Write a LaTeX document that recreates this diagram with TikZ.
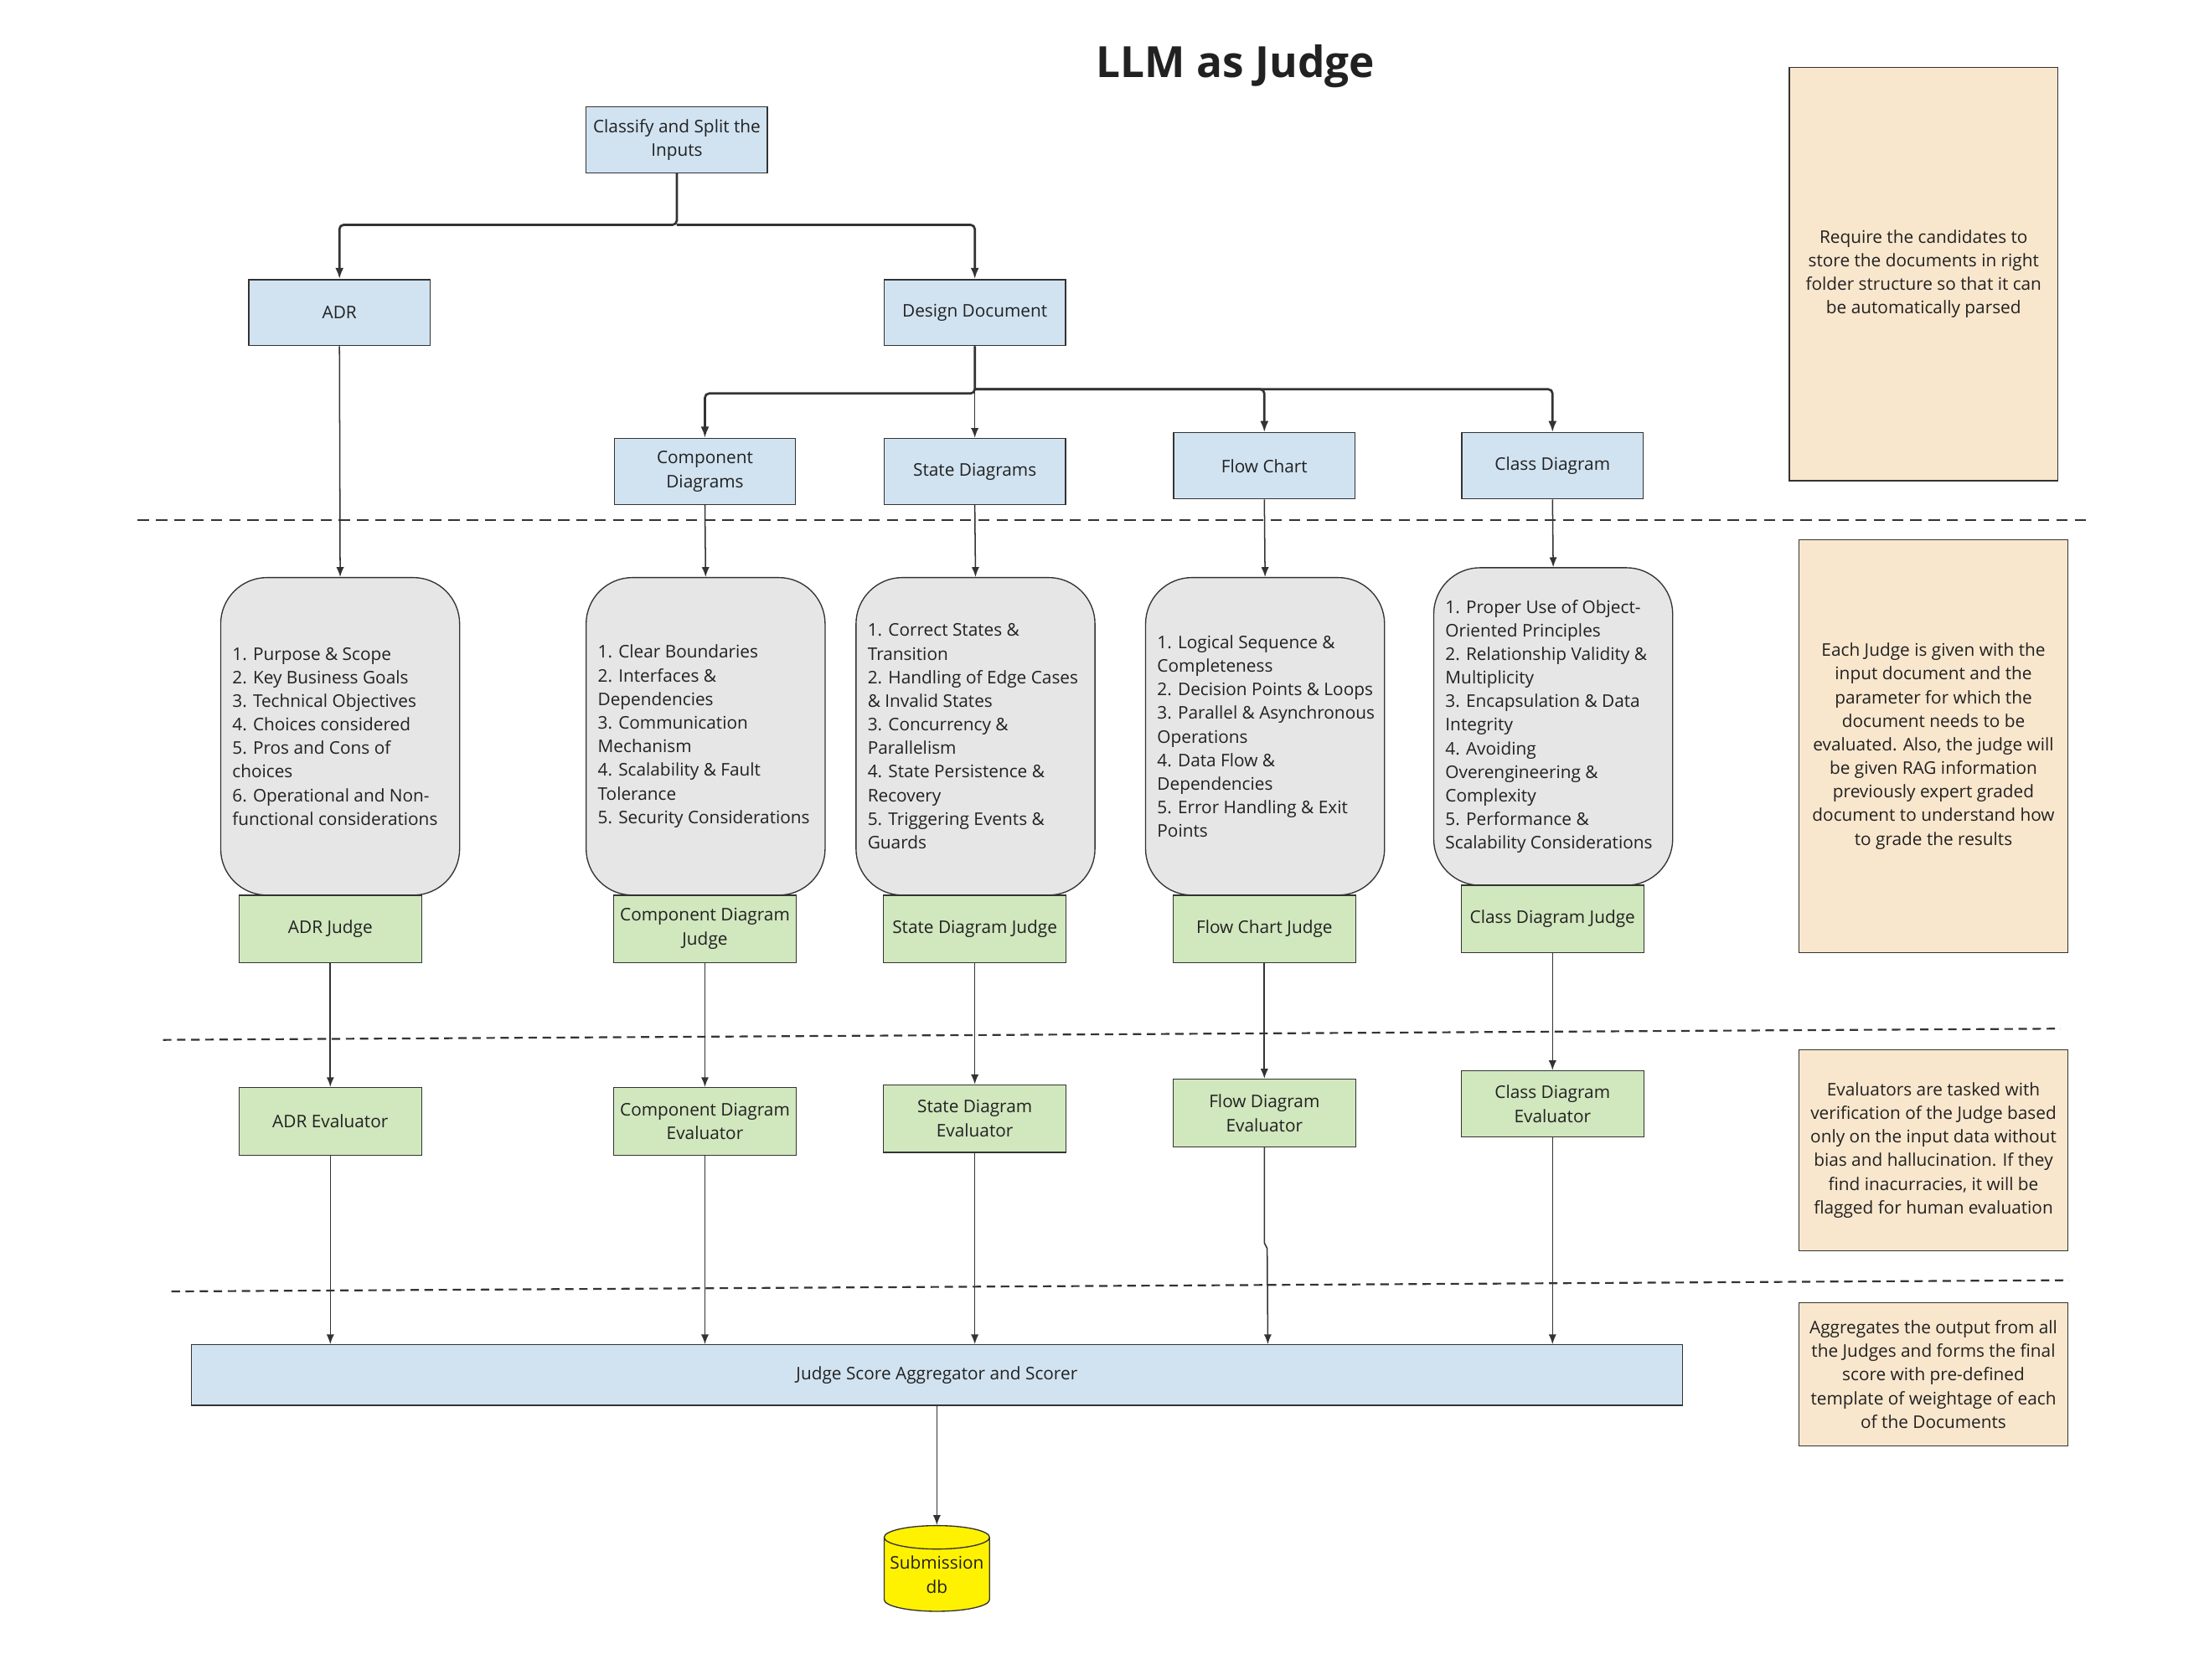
\documentclass[tikz,border=0pt]{standalone}
\usepackage{fontspec}
\setmainfont{Open Sans}
\usetikzlibrary{arrows.meta,shapes.geometric,calc}
\definecolor{bluef}{HTML}{D1E3F1}
\definecolor{greenf}{HTML}{D1E7BE}
\definecolor{peachf}{HTML}{F9E7CD}
\definecolor{grayf}{HTML}{E6E6E6}
\definecolor{linec}{HTML}{333333}
\definecolor{txtc}{HTML}{212121}
\tikzset{
  base/.style={draw=linec, line width=0.8pt, text=txtc, font=\fontsize{12.4}{17}\selectfont, align=center, inner sep=0pt},
  bluebox/.style={base, fill=bluef, minimum width=129, minimum height=47},
  greenbox/.style={base, fill=greenf, minimum width=130, minimum height=48},
  graybox/.style={base, fill=grayf, minimum width=170, minimum height=226, rounded corners=33pt},
  listtxt/.style={text=txtc, font=\fontsize{12.4}{16.8}\selectfont, align=left, inner sep=0pt, anchor=west},
  notebox/.style={base, fill=peachf, minimum width=191, font=\fontsize{12.4}{16.8}\selectfont},
  conn/.style={draw=linec, line width=0.9pt, -{Latex[length=7pt,width=5.5pt]}},
  connb/.style={draw=linec, line width=1.6pt, rounded corners=3pt, -{Latex[length=8pt,width=6pt]}},
  sep/.style={draw=linec, line width=1.3pt},
}
\begin{document}
\begin{tikzpicture}[x=1pt,y=-1pt]
\useasboundingbox (0,0) rectangle (1568,1195.5);

\node[text=txtc, font=\fontsize{30.6}{36}\selectfont\bfseries] (title) at (879,47) {LLM as Judge};

% top level
\node[bluebox] (cls) at (481.5,99.5) {Classify and Split the\\Inputs};
\node[bluebox] (adr) at (241.5,222.5) {ADR};
\node[bluebox] (dd) at (693.5,222.5) {Design Document};
\node[bluebox] (comp) at (501.5,335.5) {Component\\Diagrams};
\node[bluebox] (st) at (693.5,335.5) {State Diagrams};
\node[bluebox] (fc) at (899.5,331.5) {Flow Chart};
\node[bluebox] (cd) at (1104.5,331.5) {Class Diagram};

\coordinate (b1) at (481.5,160);
\draw[connb] (cls.south) -- (b1) -| (adr.north);
\draw[connb] (b1) -| (dd.north);
\coordinate (b2) at (693.5,280);
\coordinate (b3) at (693.5,277);
\draw[connb] (dd.south) -- (b2) -| (comp.north);
\draw[connb] (b3) -| (fc.north);
\draw[connb] (b3) -| (cd.north);
\draw[conn] (dd.south) -- (st.north);

% notes
\node[notebox, minimum height=294] (n1) at (1368.5,195) {Require the candidates to\\store the documents in right\\folder structure so that it can\\be automatically parsed};
\node[notebox, minimum height=294] (n2) at (1375.5,531) {Each Judge is given with the\\input document and the\\parameter for which the\\document needs to be\\evaluated. Also, the judge will\\be given RAG information\\previously expert graded\\document to understand how\\to grade the results};
\node[notebox, minimum height=143] (n3) at (1375.5,818.5) {Evaluators are tasked with\\verification of the Judge based\\only on the input data without\\bias and hallucination. If they\\find inacurracies, it will be\\flagged for human evaluation};
\node[notebox, minimum height=102] (n4) at (1375.5,978) {Aggregates the output from all\\the Judges and forms the final\\score with pre-defined\\template of weightage of each\\of the Documents};

% separators
\draw[sep, dash pattern=on 8pt off 5pt] (98,370) -- (1486,370);
\draw[sep, dash pattern=on 6pt off 4pt] (116,740) -- (1466,732);
\draw[sep, dash pattern=on 6pt off 4pt] (122,919) -- (1472,911);

% criteria boxes
\node[graybox] (adrc) at (242,524) {};
\node[graybox] (compc) at (502,524) {};
\node[graybox] (stc) at (694,524) {};
\node[graybox] (fcc) at (900,524) {};
\node[graybox] (cdc) at (1105,517) {};

\node[listtxt] (adrt) at ($(adrc.west)+(8.5,0)$) {1. Purpose \& Scope\\2. Key Business Goals\\3. Technical Objectives\\4. Choices considered\\5. Pros and Cons of\\choices\\6. Operational and Non-\\functional considerations};
\node[listtxt] (compt) at ($(compc.west)+(8.5,0)$) {1. Clear Boundaries\\2. Interfaces \&\\Dependencies\\3. Communication\\Mechanism\\4. Scalability \& Fault\\Tolerance\\5. Security Considerations};
\node[listtxt] (stt) at ($(stc.west)+(8.5,0)$) {1. Correct States \&\\Transition\\2. Handling of Edge Cases\\\& Invalid States\\3. Concurrency \&\\Parallelism\\4. State Persistence \&\\Recovery\\5. Triggering Events \&\\Guards};
\node[listtxt] (fct) at ($(fcc.west)+(8.5,0)$) {1. Logical Sequence \&\\Completeness\\2. Decision Points \& Loops\\3. Parallel \& Asynchronous\\Operations\\4. Data Flow \&\\Dependencies\\5. Error Handling \& Exit\\Points};
\node[listtxt] (cdt) at ($(cdc.west)+(8.5,0)$) {1. Proper Use of Object-\\Oriented Principles\\2. Relationship Validity \&\\Multiplicity\\3. Encapsulation \& Data\\Integrity\\4. Avoiding\\Overengineering \&\\Complexity\\5. Performance \&\\Scalability Considerations};

\draw[conn] (adr.south) -- (adrc.north);
\draw[conn] (comp.south) -- (compc.north);
\draw[conn] (st.south) -- (stc.north);
\draw[conn] (fc.south) -- (fcc.north);
\draw[conn] (cd.south) -- (cdc.north);

% judges
\node[greenbox] (adrj) at (235,661) {ADR Judge};
\node[greenbox] (compj) at (501.5,661) {Component Diagram\\Judge};
\node[greenbox] (stj) at (693.5,661) {State Diagram Judge};
\node[greenbox] (fcj) at (899.5,661) {Flow Chart Judge};
\node[greenbox] (cdj) at (1104.5,654) {Class Diagram Judge};

% evaluators
\node[greenbox] (adre) at (235,798) {ADR Evaluator};
\node[greenbox] (compe) at (501.5,798) {Component Diagram\\Evaluator};
\node[greenbox] (ste) at (693.5,796) {State Diagram\\Evaluator};
\node[greenbox] (fce) at (899.5,792) {Flow Diagram\\Evaluator};
\node[greenbox, minimum height=47] (cde) at (1104.5,785.5) {Class Diagram\\Evaluator};

\draw[conn, line width=1.3pt] (adrj.south) -- (adre.north);
\draw[conn, line width=1.1pt] (compj.south) -- (compe.north);
\draw[conn] (stj.south) -- (ste.north);
\draw[conn, line width=1.1pt] (fcj.south) -- (fce.north);
\draw[conn] (cdj.south) -- (cde.north);

% aggregator
\node[bluebox, minimum width=1061, minimum height=43] (agg) at (666.5,978.5) {Judge Score Aggregator and Scorer};

\draw[conn] (adre.south) -- (adre.south |- agg.north);
\draw[conn] (compe.south) -- (compe.south |- agg.north);
\draw[conn] (ste.south) -- (ste.south |- agg.north);
\draw[conn] (fce.south) -- ++(0,68) -- ++(2,4) -- (agg.north -| 902,0);
\draw[conn] (cde.south) -- (cde.south |- agg.north);

% database
\node[base, cylinder, shape border rotate=90, aspect=0.25, fill=yellow, minimum width=75, minimum height=61] (db) at (666.5,1120.5) {Submission\\db};
\draw[conn] (agg.south) -- (agg.south |- db.north);
\end{tikzpicture}
\end{document}
